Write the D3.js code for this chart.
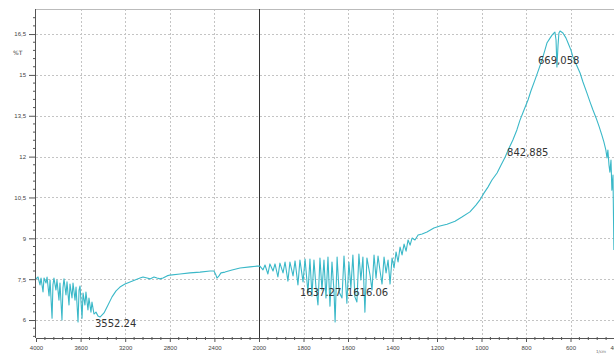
<!DOCTYPE html>
<html>
<head>
<meta charset="utf-8">
<script src="https://cdn.jsdelivr.net/npm/d3@7"></script>
<style>
  body { margin: 0; background: #fff; }
  svg { display: block; font-family: "DejaVu Sans", sans-serif; }
</style>
</head>
<body>
<svg id="chart" width="614" height="354"></svg>
<script>
// wavenumber (1/cm) and transmittance (%T)
const wavenumbers = [
  4000, 3982, 3964, 3955, 3937, 3928, 3910, 3901, 3883, 3874, 3856, 3848, 3839, 3821, 3812, 3794, 3785,
  3767, 3758, 3749, 3731, 3722, 3704, 3695, 3677, 3668, 3650, 3641, 3623, 3614, 3605, 3587, 3578, 3561,
  3552, 3534, 3525, 3507, 3498, 3480, 3462, 3444, 3426, 3390, 3354, 3318, 3282, 3247, 3202, 3157, 3112,
  3067, 3040, 3004, 2978, 2942, 2915, 2888, 2861, 2825, 2798, 2708, 2619, 2529, 2439, 2404, 2386, 2377,
  2359, 2341, 2305, 2242, 2170, 2081, 2018, 2000,
  1996, 1982, 1973, 1960, 1951, 1937, 1928, 1915, 1906, 1892, 1883, 1870, 1861, 1847, 1838, 1825, 1816,
  1802, 1793, 1780, 1771, 1762, 1753, 1744, 1735, 1726, 1717, 1708, 1699, 1690, 1681, 1672, 1663, 1658,
  1649, 1640, 1627, 1618, 1605, 1596, 1587, 1578, 1569, 1560, 1551, 1542, 1533, 1524, 1515, 1501, 1492,
  1483, 1474, 1465, 1456, 1447, 1438, 1429, 1420, 1411, 1402, 1393, 1384, 1375, 1366, 1357, 1348, 1339,
  1330, 1321, 1312, 1299, 1285, 1267, 1245, 1214, 1187, 1155, 1119, 1088, 1052, 1025, 1007, 989, 971,
  953, 930, 912, 894, 876, 859, 841, 827, 809, 791, 778, 760, 742, 728, 715, 706, 692, 683, 674, 670,
  665, 661, 656, 652, 647, 634, 620, 611, 598, 589, 575, 557, 544, 526, 512, 499, 485, 472, 459, 450,
  441, 436, 432, 427, 423, 418, 414, 409, 405
];
const transmittance = [
  7.51, 7.58, 7.29, 7.54, 7.03, 7.54, 7.36, 7.58, 6.88, 7.47, 6.07, 7.29, 7.54, 7.10, 7.47, 6.73, 7.36,
  6.00, 7.18, 7.51, 6.92, 7.40, 6.55, 7.32, 6.81, 7.36, 6.73, 7.21, 5.93, 7.10, 7.25, 6.07, 6.99, 6.55,
  7.03, 6.37, 6.81, 6.29, 6.66, 6.22, 6.29, 6.15, 6.11, 6.26, 6.55, 6.85, 7.07, 7.21, 7.32, 7.40, 7.47,
  7.54, 7.58, 7.54, 7.51, 7.58, 7.54, 7.51, 7.54, 7.62, 7.65, 7.69, 7.73, 7.76, 7.80, 7.80, 7.65, 7.54,
  7.62, 7.73, 7.76, 7.84, 7.91, 7.95, 7.98, 7.98,
  7.98, 7.84, 8.02, 7.69, 8.06, 7.80, 8.06, 7.58, 8.09, 7.73, 8.13, 7.43, 8.13, 7.62, 8.17, 7.29, 8.20,
  7.40, 8.24, 7.00, 8.24, 6.88, 8.20, 7.21, 6.55, 8.28, 7.10, 8.20, 6.81, 8.31, 6.51, 8.13, 7.07, 5.93,
  8.31, 7.03, 6.81, 8.35, 6.62, 8.13, 7.18, 8.39, 6.85, 6.66, 8.42, 7.47, 8.31, 6.29, 8.28, 7.65, 7.10,
  8.39, 7.54, 8.35, 7.80, 7.32, 8.31, 7.73, 8.20, 7.32, 8.28, 7.91, 8.50, 8.13, 8.68, 8.39, 8.79, 8.53,
  8.94, 8.75, 9.01, 8.94, 9.12, 9.16, 9.23, 9.38, 9.45, 9.52, 9.63, 9.78, 9.97, 10.22, 10.41, 10.66, 10.88,
  11.14, 11.40, 11.69, 11.98, 12.32, 12.61, 12.98, 13.34, 13.71, 14.08, 14.41, 14.81, 15.22, 15.55, 15.91,
  16.17, 16.35, 16.46, 16.54, 16.57, 16.28, 15.29, 16.10, 16.54, 16.61, 16.54, 16.35, 16.17, 15.91,
  15.66, 15.40, 15.07, 14.74, 14.33, 14.00, 13.71, 13.42, 13.12, 12.79, 12.54, 12.24, 11.95, 12.24,
  11.69, 11.43, 11.87, 10.77, 11.32, 8.57
];

// peak annotations
const peakLabels = ["3552.24", "1637.27", "1616.06", "842,885", "669,058"];
const peakWn = [3471, 1816, 1605, 885, 746];
const peakT = [5.76, 6.88, 6.88, 12.02, 15.40];

const xTicks = [4000, 3600, 3200, 2800, 2400, 2000, 1800, 1600, 1400, 1200, 1000, 800, 600, 400];
const yTicks = [6, 7.5, 9, 10.5, 12, 13.5, 15, 16.5];
const yTickLabels = ["6", "7,5", "9", "10,5", "12", "13,5", "15", "16,5"];

const svg = d3.select("#chart");
const margin = { left: 36, right: 615, top: 9, bottom: 338 };

// FTIR axis: scale changes at 2000 1/cm
const x = d3.scaleLinear().domain([4000, 2000, 400]).range([margin.left, 259, margin.right]);
const y = d3.scaleLinear().domain([5.34, 17.42]).range([margin.bottom, margin.top]);

// grid
const grid = svg.append("g").attr("stroke", "#c4c4c4").attr("stroke-width", 1)
  .attr("stroke-dasharray", "2,2");
grid.selectAll("line.v")
  .data(xTicks.filter(d => d !== 4000 && d !== 2000 && d !== 400))
  .enter().append("line")
  .attr("x1", d => Math.round(x(d)) + 0.5).attr("x2", d => Math.round(x(d)) + 0.5)
  .attr("y1", margin.top).attr("y2", margin.bottom);
grid.selectAll("line.h")
  .data(yTicks)
  .enter().append("line")
  .attr("x1", margin.left).attr("x2", 614)
  .attr("y1", d => Math.round(y(d)) + 0.5).attr("y2", d => Math.round(y(d)) + 0.5);

// top frame line
svg.append("line").attr("x1", margin.left).attr("x2", 614)
  .attr("y1", margin.top + 0.5).attr("y2", margin.top + 0.5)
  .attr("stroke", "#bbb");

// 2000 divider
svg.append("line")
  .attr("x1", Math.round(x(2000)) + 0.5).attr("x2", Math.round(x(2000)) + 0.5)
  .attr("y1", margin.top).attr("y2", margin.bottom)
  .attr("stroke", "#333").attr("stroke-width", 1);

// spectrum
const data = wavenumbers.map((w, i) => ({ w: w, t: transmittance[i] }));
svg.append("path")
  .datum(data)
  .attr("d", d3.line().x(d => x(d.w)).y(d => y(d.t)))
  .attr("fill", "none")
  .attr("stroke", "#3ab8c8")
  .attr("stroke-width", 1.1)
  .attr("stroke-linejoin", "round");

// axes
const xAxis = svg.append("g").attr("transform", `translate(0,${margin.bottom})`)
  .call(d3.axisBottom(x).tickValues(xTicks).tickSize(4).tickFormat(d3.format("d")));
const yAxis = svg.append("g").attr("transform", `translate(${margin.left},0)`)
  .call(d3.axisLeft(y).tickValues(yTicks).tickSize(7).tickFormat((d, i) => yTickLabels[i]));

[xAxis, yAxis].forEach(a => {
  a.select(".domain").attr("stroke", "#555");
  a.selectAll(".tick line").attr("stroke", "#555");
  a.selectAll("text").attr("fill", "#444").style("font-size", "6px");
});
xAxis.select(".domain").attr("d", `M${margin.left},0.5H614`);
yAxis.select(".domain").attr("d", `M-0.5,${margin.top}V${margin.bottom}`);
xAxis.selectAll("text").attr("dy", "0.9em");
yAxis.selectAll("text").attr("x", -10);

// minor ticks
const xMinor = d3.range(4000, 2000, -80).concat(d3.range(2000, 399, -40))
  .filter(d => !xTicks.includes(d));
svg.append("g").selectAll("line").data(xMinor).enter().append("line")
  .attr("x1", d => x(d)).attr("x2", d => x(d))
  .attr("y1", margin.bottom - 1).attr("y2", margin.bottom + 2)
  .attr("stroke", "#555");
const yMinor = d3.range(5.4, 17.4, 0.3).filter(d => !yTicks.some(t => Math.abs(t - d) < 0.01));
svg.append("g").selectAll("line").data(yMinor).enter().append("line")
  .attr("x1", margin.left - 3).attr("x2", margin.left)
  .attr("y1", d => y(d)).attr("y2", d => y(d))
  .attr("stroke", "#555");

// axis titles
svg.append("text").attr("x", 13).attr("y", 55).text("%T")
  .attr("fill", "#444").style("font-size", "6px");
svg.append("text").attr("x", 596).attr("y", 353).text("1/cm")
  .attr("fill", "#666").style("font-size", "4px");

// peak labels
svg.append("g").selectAll("text").data(peakLabels).enter().append("text")
  .attr("x", (d, i) => x(peakWn[i]))
  .attr("y", (d, i) => y(peakT[i]))
  .text(d => d)
  .attr("fill", "#333")
  .style("font-size", "10px");
</script>
</body>
</html>
